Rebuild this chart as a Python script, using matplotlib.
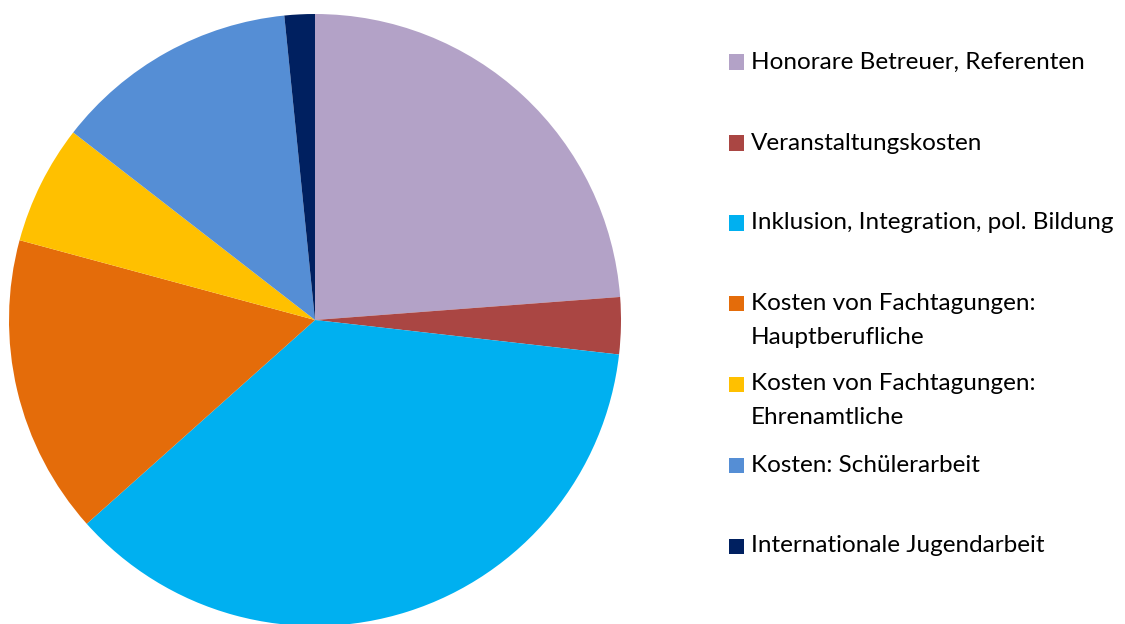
import matplotlib
matplotlib.use("Agg")
import matplotlib.pyplot as plt
import matplotlib.patches as patches

labels = [
    "Honorare Betreuer, Referenten",
    "Veranstaltungskosten",
    "Inklusion, Integration, pol. Bildung",
    "Kosten von Fachtagungen:\nHauptberufliche",
    "Kosten von Fachtagungen:\nEhrenamtliche",
    "Kosten: Schülerarbeit",
    "Internationale Jugendarbeit",
]
values = [23.8, 3.0, 36.6, 15.8, 6.3, 12.9, 1.6]
colors = ["#B3A2C7", "#AA4643", "#00B0F0", "#E46C0A", "#FFC000", "#558ED5", "#002060"]

W, H = 1125, 624
fig = plt.figure(figsize=(W / 100, H / 100), dpi=100)

# Kreis: Mitte (315, 320) px von oben links, Radius 306 px
cx, cy, r = 315, 320, 306
ax = fig.add_axes([(cx - r) / W, (H - cy - r) / H, 2 * r / W, 2 * r / H])
wedges, _ = ax.pie(values, colors=colors, startangle=90, counterclock=False,
                   radius=1, wedgeprops=dict(linewidth=0))
for w in wedges:
    w.set_clip_on(False)
ax.set_xlim(-1, 1)
ax.set_ylim(-1, 1)
ax.set_aspect("equal")
ax.axis("off")

# Legende von Hand (Pixel von oben)
legend_y = [62, 143, 223, 303, 384, 465, 546]
line_gap = 34
for lab, col, y in zip(labels, colors, legend_y):
    fig.patches.append(patches.Rectangle((729 / W, (H - y - 7.5) / H), 15 / W, 15 / H,
                                         transform=fig.transFigure, fc=col, ec="none"))
    for i, line in enumerate(lab.split("\n")):
        fig.text(751 / W, (H - y - i * line_gap) / H, line, ha="left", va="center",
                 fontsize=17.5, family="Lato", color="#000000")

fig.savefig("out.png", dpi=100)
